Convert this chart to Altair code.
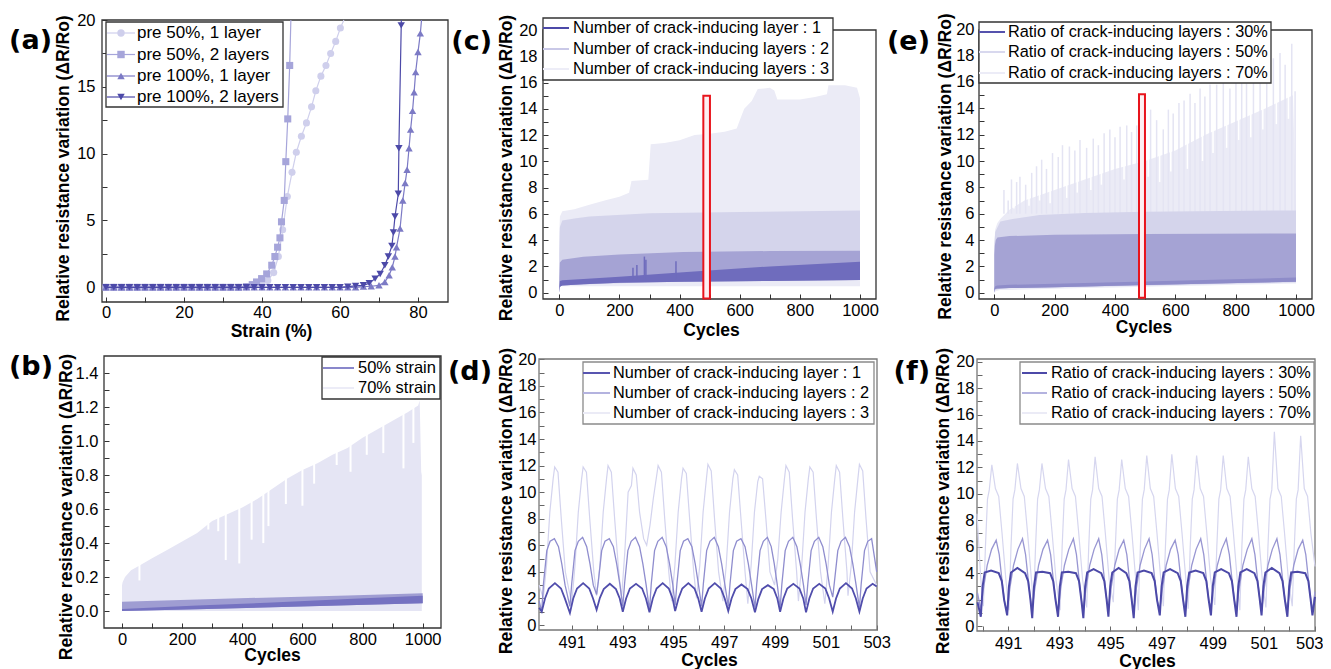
import altair as alt
import pandas as pd

FONT = "Liberation Sans"
PANEL_FONT = "DejaVu Sans"

# ================= (a) strain sweeps =================
A1_x = [0, 2, 4, 6, 8, 10, 12, 14, 16, 18,
        20, 22, 24, 26, 28, 30, 32, 34, 36, 38,
        40, 41.5, 43.0, 44.2, 45.3, 46.5, 47.7, 48.8, 50.1, 51.4,
        52.7, 53.8, 55.1, 56.4, 57.6, 58.9, 60.1, 61.0]
A1_y = [0.0, 0.0, 0.0, 0.0, 0.0, 0.0, 0.0, 0.0, 0.0, 0.0,
        0.0, 0.0, 0.0, 0.0, 0.0, 0.0, 0.0, 0.0, 0.05, 0.1,
        0.2, 0.5, 1.1, 2.3, 4.3, 6.8, 8.6, 10.1, 11.3, 12.3,
        13.5, 14.7, 15.8, 16.6, 17.5, 18.4, 19.4, 20.0]
A2_x = [0, 2, 4, 6, 8, 10, 12, 14, 16, 18,
        20, 22, 24, 26, 28, 30, 32, 34, 36, 37.5,
        38.6, 39.9, 41.2, 42.5, 43.3, 44.0, 44.6, 45.0, 45.7, 46.1,
        46.6, 47.1, 47.4]
A2_y = [0.0, 0.0, 0.0, 0.0, 0.0, 0.0, 0.0, 0.0, 0.0, 0.0,
        0.0, 0.0, 0.0, 0.0, 0.0, 0.0, 0.0, 0.0, 0.05, 0.2,
        0.4, 0.65, 1.0, 1.65, 2.3, 3.0, 3.7, 4.9, 6.5, 9.4,
        12.6, 16.6, 20.0]
A3_x = [0, 2, 4, 6, 8, 10, 12, 14, 16, 18,
        20, 22, 24, 26, 28, 30, 32, 34, 36, 38,
        40, 42, 44, 46, 48, 50, 52, 54, 56, 58,
        60, 62, 64, 66, 68, 70.0, 71.5, 72.6, 73.4, 74.1,
        74.5, 75.4, 76.1, 76.7, 77.2, 77.7, 78.1, 78.6, 79.0, 79.4,
        80.0, 80.6, 80.9]
A3_y = [0.0, 0.0, 0.0, 0.0, 0.0, 0.0, 0.0, 0.0, 0.0, 0.0,
        0.0, 0.0, 0.0, 0.0, 0.0, 0.0, 0.0, 0.0, 0.0, 0.0,
        0.0, 0.0, 0.0, 0.0, 0.0, 0.0, 0.0, 0.0, 0.0, 0.0,
        0.0, 0.0, 0.0, 0.05, 0.08, 0.15, 0.4, 0.9, 1.5, 2.3,
        3.0, 4.4, 6.5, 7.8, 8.8, 10.4, 11.8, 13.2, 14.6, 16.1,
        17.6, 19.0, 20.0]
A4_x = [0, 2, 4, 6, 8, 10, 12, 14, 16, 18,
        20, 22, 24, 26, 28, 30, 32, 34, 36, 38,
        40, 42, 44, 46, 48, 50, 52, 54, 56, 58,
        60, 62, 64, 66, 67.5, 69.0, 70.3, 71.5, 72.4, 73.3,
        73.7, 74.1, 74.95, 75.1, 75.7, 75.73]
A4_y = [0.0, 0.0, 0.0, 0.0, 0.0, 0.0, 0.0, 0.0, 0.0, 0.0,
        0.0, 0.0, 0.0, 0.0, 0.0, 0.0, 0.0, 0.0, 0.0, 0.0,
        0.0, 0.0, 0.0, 0.0, 0.0, 0.0, 0.0, 0.0, 0.0, 0.0,
        0.0, 0.05, 0.1, 0.15, 0.3, 0.65, 1.0, 1.65, 2.3, 3.1,
        4.1, 5.3, 7.0, 10.4, 19.6, 20.0]
A_names = ["pre 50%, 1 layer", "pre 50%, 2 layers", "pre 100%, 1 layer", "pre 100%, 2 layers"]

# ================= (b) 1000 cycles, strain =================
B70_x = [0, 2, 10, 30, 60, 100, 150, 200, 250, 300, 350, 400, 450, 500,
         550, 600, 650, 700, 750, 800, 850, 900, 950, 985, 990, 995, 997]
B70_hi = [0.15, 0.17, 0.20, 0.24, 0.27, 0.31, 0.36, 0.41, 0.46, 0.53, 0.57, 0.61, 0.66, 0.72,
          0.78, 0.83, 0.87, 0.92, 0.96, 1.02, 1.07, 1.12, 1.17, 1.21, 1.24, 0.82, 0.80]
B_gap_x = [58, 287, 320, 345, 390, 431, 470, 487, 545, 600, 639, 714, 760, 814, 869, 936, 969]
B_gap_lo = [0.18, 0.48, 0.47, 0.30, 0.28, 0.42, 0.40, 0.50, 0.63, 0.62, 0.75, 0.86, 0.82, 0.92, 0.93, 0.84, 0.99]
B50_x = [0, 250, 500, 750, 1000]
B50_hi = [0.055, 0.068, 0.080, 0.092, 0.104]
B50_lo = [0.0, 0.011, 0.022, 0.034, 0.045]
B50_core = [0.012, 0.032, 0.050, 0.070, 0.090]
B_names = ["50% strain", "70% strain"]

# ================= (c) 1000 cycles, number of layers =================
C3_x = [0, 2, 10, 50, 100, 157, 200, 232, 240, 296, 304, 350, 400, 450, 500, 550,
        590, 603, 615, 640, 660, 700, 715, 725, 800, 850, 890, 895, 950, 990, 1000]
C3_hi = [4.5, 5.8, 6.2, 6.35, 6.7, 7.05, 7.3, 7.6, 8.5, 8.6, 11.3, 11.4, 11.6, 12.0, 12.1, 12.25,
         12.5, 13.3, 14.0, 14.6, 15.5, 15.6, 15.4, 14.7, 14.7, 14.9, 15.1, 15.8, 15.8, 15.6, 14.8]
C2_x = [0, 2, 10, 50, 100, 300, 600, 1000]
C2_hi = [3.0, 5.0, 5.5, 5.65, 5.8, 6.05, 6.15, 6.25]
C2_lo = [0.0, 0.45, 0.55, 0.6, 0.65, 0.8, 0.88, 0.97]
C1_x = [0, 2, 10, 80, 200, 412, 700, 1000]
C1_hi = [1.0, 2.3, 2.5, 2.74, 2.9, 3.1, 3.17, 3.2]
C1_lo = [0.0, 0.45, 0.55, 0.65, 0.75, 0.84, 0.9, 0.97]
C1_core = [0.4, 0.9, 0.95, 1.05, 1.22, 1.55, 2.0, 2.36]
C_spk_x = [245, 258, 283, 288, 388]
C_spk_hi = [1.9, 2.1, 2.75, 2.5, 2.4]
C_box = {"x0": [479], "x1": [501], "y0": [-0.45], "y1": [15.0]}
C_names = ["Number of crack-inducing layer : 1", "Number of crack-inducing layers : 2",
           "Number of crack-inducing layers : 3"]

# ================= (e) 1000 cycles, ratio of layers =================
E70_x = [0, 3, 10, 20, 50, 100, 200, 300, 400, 500, 600, 700, 800, 900, 990, 1000]
E70_hi = [3.7, 4.8, 5.3, 5.6, 6.3, 7.0, 7.8, 8.6, 9.4, 10.0, 10.8, 12.0, 13.0, 14.0, 15.0, 6.3]
E70_lo = [0.0, 0.1, 0.15, 0.2, 0.2, 0.25, 0.3, 0.35, 0.4, 0.45, 0.5, 0.55, 0.6, 0.65, 0.7, 0.7]
E_gap_x = [65, 115, 150, 185, 240, 275, 320, 355, 430, 480, 510, 548, 585, 640, 690, 725,
           770, 810, 850, 890, 935, 975]
E_gap_lo = [6.4, 6.6, 7.0, 6.8, 7.2, 7.6, 7.8, 8.2, 8.6, 8.0, 8.8, 8.4, 9.2, 9.4, 10.0, 10.6,
            11.0, 11.6, 11.8, 12.4, 12.8, 13.2]
E_spk_x = [32, 46, 57, 74, 85, 104, 124, 140, 157, 173, 193, 212, 226, 249, 267, 284, 306, 328,
           345, 364, 383, 400, 417, 439, 455, 472, 518, 538, 560, 577, 593, 612, 629, 649, 665,
           682, 698, 715, 737, 759, 781, 801, 820, 836, 859, 881, 903, 925, 947, 964, 986, 997]
E_spk_hi = [7.8, 7.0, 8.6, 8.4, 8.8, 8.2, 9.1, 9.6, 10.1, 9.4, 10.6, 10.3, 11.2, 11.1, 10.8, 11.6,
            11.0, 11.7, 11.2, 12.1, 12.4, 11.8, 12.6, 12.7, 12.2, 12.7, 13.9, 13.1, 12.4, 13.9,
            13.6, 14.4, 14.6, 15.1, 14.4, 15.5, 14.9, 15.8, 15.8, 16.2, 15.5, 16.2, 16.4, 15.9,
            16.8, 17.2, 16.4, 17.8, 18.2, 17.3, 18.9, 15.3]
E50_x = [0, 3, 20, 60, 150, 300, 500, 1000]
E50_hi = [3.6, 4.6, 5.4, 5.6, 5.9, 6.05, 6.15, 6.25]
E50_lo = [0.0, 0.2, 0.3, 0.35, 0.4, 0.45, 0.55, 0.8]
E30_x = [0, 2, 5, 10, 50, 200, 500, 1000]
E30_hi = [2.9, 3.6, 4.0, 4.2, 4.3, 4.4, 4.45, 4.5]
E30_lo = [0.0, 0.25, 0.3, 0.32, 0.35, 0.42, 0.58, 0.84]
E30_core = [0.3, 0.45, 0.5, 0.55, 0.6, 0.68, 0.85, 1.15]
E_box = {"x0": [479.6], "x1": [499.4], "y0": [-0.38], "y1": [15.06]}
E_names = ["Ratio of crack-inducing layers : 30%", "Ratio of crack-inducing layers : 50%",
           "Ratio of crack-inducing layers : 70%"]

# ================= (d) zoom, number of layers =================
D1_x = [489.72,
        489.82, 489.95, 490.10, 490.34, 490.58, 490.73,
        490.93, 491.06, 491.21, 491.45, 491.69, 491.84,
        491.98, 492.11, 492.26, 492.50, 492.74, 492.89,
        493.01, 493.14, 493.29, 493.53, 493.77, 493.92,
        494.06, 494.19, 494.34, 494.58, 494.82, 494.97,
        495.07, 495.20, 495.35, 495.59, 495.83, 495.98,
        496.11, 496.24, 496.39, 496.63, 496.87, 497.02,
        497.16, 497.29, 497.44, 497.68, 497.92, 498.07,
        498.21, 498.34, 498.49, 498.72, 498.95, 499.09,
        499.20, 499.33, 499.48, 499.72, 499.96, 500.11,
        500.22, 500.35, 500.50, 500.74, 500.98, 501.13,
        501.27, 501.40, 501.55, 501.79, 502.03, 502.18,
        502.32, 502.45, 502.60, 502.84, 503.0]
D1_y = [1.3,
        1.0, 2.0, 2.75, 3.15, 2.75, 2.0,
        0.9, 2.0, 2.75, 3.15, 2.75, 2.0,
        1.15, 2.05, 2.7, 3.1, 2.7, 2.0,
        1.0, 2.0, 2.75, 3.1, 2.75, 2.0,
        0.95, 2.0, 2.75, 3.15, 2.75, 2.0,
        1.05, 2.0, 2.75, 3.15, 2.75, 2.0,
        1.0, 2.0, 2.75, 3.15, 2.75, 2.0,
        1.05, 2.0, 2.7, 3.05, 2.7, 2.0,
        0.95, 1.95, 2.7, 3.0, 2.7, 2.0,
        1.0, 2.0, 2.75, 3.1, 2.75, 2.0,
        0.95, 2.0, 2.75, 3.1, 2.75, 2.0,
        1.0, 2.0, 2.75, 3.15, 2.75, 2.0,
        1.0, 2.0, 2.75, 3.1, 2.9]
D2_x = [489.72,
        489.82, 489.89, 490.02, 490.15, 490.32, 490.48, 490.61, 490.74,
        490.93, 491.00, 491.13, 491.26, 491.43, 491.59, 491.72, 491.85,
        491.98, 492.05, 492.18, 492.31, 492.48, 492.64, 492.77, 492.90,
        493.01, 493.08, 493.21, 493.34, 493.51, 493.67, 493.80, 493.93,
        494.06, 494.13, 494.26, 494.39, 494.56, 494.72, 494.85, 494.98,
        495.07, 495.14, 495.27, 495.40, 495.57, 495.73, 495.86, 495.99,
        496.11, 496.18, 496.31, 496.44, 496.61, 496.77, 496.90, 497.03,
        497.16, 497.23, 497.36, 497.49, 497.66, 497.82, 497.95, 498.08,
        498.21, 498.28, 498.41, 498.54, 498.70, 498.85, 498.97, 499.09,
        499.20, 499.27, 499.40, 499.53, 499.70, 499.86, 499.99, 500.12,
        500.22, 500.29, 500.42, 500.55, 500.72, 500.88, 501.01, 501.14,
        501.27, 501.34, 501.47, 501.60, 501.77, 501.93, 502.06, 502.19,
        502.32, 502.39, 502.52, 502.65, 502.80, 503.0]
D2_y = [1.8,
        1.0, 3.1, 5.6, 6.3, 6.5, 5.9, 4.6, 3.0,
        1.4, 3.1, 5.6, 6.3, 6.6, 5.9, 4.6, 3.0,
        2.3, 3.3, 5.6, 6.3, 6.5, 5.9, 4.6, 3.0,
        1.4, 3.1, 5.6, 6.3, 6.6, 5.9, 4.6, 3.0,
        1.1, 3.1, 5.6, 6.3, 6.6, 5.9, 4.6, 3.0,
        1.5, 3.1, 5.6, 6.3, 6.5, 5.9, 4.6, 3.0,
        1.4, 3.1, 5.6, 6.3, 6.6, 5.9, 4.6, 3.0,
        1.4, 3.1, 5.6, 6.3, 6.5, 5.9, 4.6, 3.0,
        1.3, 3.1, 5.6, 6.3, 6.6, 5.9, 4.6, 3.0,
        1.3, 3.1, 5.6, 6.3, 6.6, 5.9, 4.6, 3.0,
        1.5, 3.1, 5.6, 6.3, 6.6, 5.9, 4.6, 3.0,
        2.1, 3.3, 5.6, 6.3, 6.6, 5.9, 4.6, 3.0,
        1.3, 3.1, 5.6, 6.3, 6.5, 4.0]
D3_x = [489.72,
        489.88, 490.01, 490.14, 490.27, 490.33, 490.46, 490.59, 490.75,
        491.00, 491.13, 491.26, 491.39, 491.45, 491.58, 491.71, 491.87,
        491.98, 492.11, 492.24, 492.37, 492.43, 492.56, 492.69, 492.85,
        492.96, 493.09, 493.22, 493.35, 493.41, 493.54, 493.67, 493.83,
        493.95, 494.08, 494.21, 494.34, 494.40, 494.53, 494.66, 494.82,
        494.93, 495.06, 495.19, 495.32, 495.38, 495.51, 495.64, 495.80,
        495.91, 496.04, 496.17, 496.30, 496.36, 496.49, 496.62, 496.78,
        496.95, 497.08, 497.21, 497.34, 497.40, 497.53, 497.66, 497.82,
        497.93, 498.06, 498.19, 498.32, 498.38, 498.51, 498.64, 498.80,
        498.98, 499.11, 499.24, 499.37, 499.43, 499.56, 499.69, 499.85,
        499.92, 500.05, 500.18, 500.31, 500.37, 500.50, 500.63, 500.79,
        500.96, 501.09, 501.22, 501.35, 501.41, 501.54, 501.67, 501.83,
        501.87, 502.00, 502.13, 502.26, 502.32, 502.45, 502.58, 502.74,
        503.0]
D3_y = [3.0,
        2.0, 4.5, 8.5, 11.0, 11.9, 11.5, 8.0, 4.0,
        1.6, 4.5, 8.5, 11.0, 11.9, 11.5, 8.0, 4.0,
        2.2, 4.5, 8.5, 11.0, 12.0, 11.5, 8.0, 4.0,
        2.0, 5.5, 10.0, 10.5, 11.8, 11.3, 8.5, 6.5,
        6.0, 7.5, 9.5, 11.2, 12.0, 11.5, 8.0, 4.0,
        1.8, 4.5, 8.5, 11.0, 11.8, 11.4, 8.0, 4.0,
        2.0, 4.5, 8.5, 11.0, 12.1, 11.6, 8.0, 4.0,
        1.8, 4.5, 8.5, 11.0, 11.7, 11.3, 8.0, 4.0,
        1.6, 4.5, 8.5, 10.8, 11.2, 11.0, 8.0, 4.0,
        3.0, 5.0, 8.5, 11.0, 12.0, 11.5, 8.0, 4.0,
        1.8, 4.5, 8.5, 11.0, 11.9, 11.5, 8.0, 4.0,
        1.6, 4.5, 8.5, 11.0, 12.0, 11.5, 8.0, 4.0,
        2.2, 4.5, 8.5, 11.0, 12.1, 11.6, 8.0, 4.0,
        3.0]

# ================= (f) zoom, ratio of layers =================
F1_x = [489.80,
        489.93, 490.00, 490.08, 490.33, 490.63, 490.75, 490.84,
        490.96, 491.03, 491.11, 491.36, 491.66, 491.78, 491.87,
        491.94, 492.01, 492.09, 492.34, 492.64, 492.76, 492.85,
        492.95, 493.02, 493.10, 493.35, 493.65, 493.77, 493.86,
        493.94, 494.01, 494.09, 494.34, 494.64, 494.76, 494.85,
        494.92, 494.99, 495.07, 495.32, 495.62, 495.74, 495.83,
        495.91, 495.98, 496.06, 496.31, 496.61, 496.73, 496.82,
        496.93, 497.00, 497.08, 497.33, 497.63, 497.75, 497.84,
        497.93, 498.00, 498.08, 498.33, 498.63, 498.75, 498.84,
        498.93, 499.00, 499.08, 499.33, 499.63, 499.75, 499.84,
        499.93, 500.00, 500.08, 500.33, 500.63, 500.75, 500.84,
        500.91, 500.98, 501.06, 501.31, 501.61, 501.73, 501.82,
        501.92, 501.99, 502.07, 502.32, 502.62, 502.74, 502.83,
        502.90, 503.0]
F1_y = [1.8,
        0.7, 3.0, 4.05, 4.2, 4.0, 3.4, 2.0,
        0.8, 3.0, 4.05, 4.4, 4.0, 3.4, 2.0,
        0.6, 3.0, 4.05, 4.1, 4.0, 3.4, 2.0,
        0.7, 3.0, 4.05, 4.1, 4.0, 3.4, 2.0,
        0.6, 3.0, 4.05, 4.3, 4.0, 3.4, 2.0,
        0.7, 3.0, 4.05, 4.4, 4.0, 3.4, 2.0,
        0.6, 3.0, 4.05, 4.2, 4.0, 3.4, 2.0,
        0.8, 3.0, 4.05, 4.3, 4.0, 3.4, 2.0,
        0.7, 3.0, 4.05, 4.2, 4.0, 3.4, 2.0,
        0.8, 3.0, 4.05, 4.3, 4.0, 3.4, 2.0,
        0.7, 3.0, 4.05, 4.3, 4.0, 3.4, 2.0,
        0.8, 3.0, 4.05, 4.4, 4.0, 3.4, 2.0,
        0.7, 3.0, 4.05, 4.1, 4.0, 3.4, 2.0,
        0.8, 2.2]
F2_x = [489.80,
        489.93, 490.03, 490.18, 490.35, 490.53, 490.65, 490.76, 490.85,
        490.96, 491.06, 491.21, 491.38, 491.56, 491.68, 491.79, 491.88,
        491.94, 492.04, 492.19, 492.36, 492.54, 492.66, 492.77, 492.86,
        492.95, 493.05, 493.20, 493.37, 493.55, 493.67, 493.78, 493.87,
        493.94, 494.04, 494.19, 494.36, 494.54, 494.66, 494.77, 494.86,
        494.92, 495.02, 495.17, 495.34, 495.52, 495.64, 495.75, 495.84,
        495.91, 496.01, 496.16, 496.33, 496.51, 496.63, 496.74, 496.83,
        496.93, 497.03, 497.18, 497.35, 497.53, 497.65, 497.76, 497.85,
        497.93, 498.03, 498.18, 498.35, 498.53, 498.65, 498.76, 498.85,
        498.93, 499.03, 499.18, 499.35, 499.53, 499.65, 499.76, 499.85,
        499.93, 500.03, 500.18, 500.35, 500.53, 500.65, 500.76, 500.85,
        500.91, 501.01, 501.16, 501.33, 501.51, 501.63, 501.74, 501.83,
        501.92, 502.02, 502.17, 502.34, 502.52, 502.64, 502.75, 502.84,
        502.90, 503.0]
F2_y = [2.5,
        1.2, 2.8, 4.6, 5.8, 6.5, 5.4, 3.4, 1.9,
        1.0, 2.8, 4.6, 5.8, 6.6, 5.4, 3.4, 1.9,
        1.3, 2.8, 4.6, 5.8, 6.5, 5.4, 3.4, 1.9,
        1.0, 2.8, 4.6, 5.8, 6.6, 5.4, 3.4, 1.9,
        1.2, 2.8, 4.6, 5.8, 6.6, 5.4, 3.4, 1.9,
        1.4, 2.8, 4.6, 5.8, 6.5, 5.4, 3.4, 1.9,
        1.0, 2.8, 4.6, 5.8, 6.6, 5.4, 3.4, 1.9,
        1.3, 2.8, 4.6, 5.8, 6.5, 5.4, 3.4, 1.9,
        1.1, 2.8, 4.6, 5.8, 6.6, 5.4, 3.4, 1.9,
        1.4, 2.8, 4.6, 5.8, 6.6, 5.4, 3.4, 1.9,
        1.2, 2.8, 4.6, 5.8, 6.6, 5.4, 3.4, 1.9,
        1.1, 2.8, 4.6, 5.8, 6.6, 5.4, 3.4, 1.9,
        1.3, 2.8, 4.6, 5.8, 6.5, 5.4, 3.4, 1.9,
        1.2, 2.6]
F3_x = [489.78, 489.93,
        490.03, 490.11, 490.19, 490.26, 490.36, 490.50, 490.63, 490.76, 490.91,
        491.03, 491.11, 491.19, 491.26, 491.36, 491.50, 491.63, 491.76, 491.91,
        491.99, 492.07, 492.15, 492.22, 492.32, 492.46, 492.59, 492.72, 492.87,
        493.03, 493.11, 493.19, 493.26, 493.36, 493.50, 493.63, 493.76, 493.91,
        494.07, 494.15, 494.23, 494.30, 494.40, 494.54, 494.67, 494.80, 494.95,
        495.11, 495.19, 495.27, 495.34, 495.44, 495.58, 495.71, 495.84, 495.99,
        496.09, 496.17, 496.25, 496.32, 496.42, 496.56, 496.69, 496.82, 496.97,
        497.07, 497.15, 497.23, 497.30, 497.40, 497.54, 497.67, 497.80, 497.95,
        498.04, 498.12, 498.20, 498.27, 498.37, 498.51, 498.64, 498.77, 498.92,
        499.08, 499.16, 499.24, 499.31, 499.41, 499.55, 499.68, 499.81, 499.96,
        500.06, 500.14, 500.22, 500.29, 500.39, 500.53, 500.66, 500.79, 500.94,
        501.08, 501.16, 501.24, 501.31, 501.41, 501.55, 501.68, 501.81, 501.96,
        502.11, 502.19, 502.27, 502.34, 502.44, 502.58, 502.71, 502.84,
        503.0]
F3_y = [8.5, 3.5,
        1.5, 6.0, 9.6, 10.3, 12.2, 10.4, 9.8, 7.0, 3.5,
        1.2, 6.0, 9.6, 10.3, 12.3, 10.4, 9.8, 7.0, 3.5,
        1.6, 6.0, 9.6, 10.3, 12.3, 10.4, 9.8, 7.0, 3.5,
        1.2, 6.0, 9.6, 10.3, 12.6, 10.4, 9.8, 7.0, 3.5,
        1.4, 6.0, 9.6, 10.3, 12.8, 10.4, 9.8, 7.0, 3.5,
        1.8, 6.0, 9.6, 10.3, 12.6, 10.4, 9.8, 7.0, 3.5,
        1.2, 6.0, 9.6, 10.3, 12.9, 10.4, 9.8, 7.0, 3.5,
        1.5, 6.0, 9.6, 10.3, 13.0, 10.4, 9.8, 7.0, 3.5,
        1.3, 6.0, 9.6, 10.3, 12.9, 10.4, 9.8, 7.0, 3.5,
        1.6, 6.0, 9.6, 10.3, 12.9, 10.4, 9.8, 7.0, 3.5,
        1.2, 6.0, 9.6, 10.3, 12.8, 10.4, 9.8, 7.0, 3.5,
        1.4, 6.0, 9.6, 10.3, 14.7, 10.4, 9.8, 7.0, 3.5,
        1.5, 6.0, 9.6, 10.3, 14.4, 10.4, 9.8, 7.0,
        4.5]

# ================= axis tick values =================
A_xt = [0, 10, 20, 30, 40, 50, 60, 70, 80]
A_yt = [0, 2.5, 5, 7.5, 10, 12.5, 15, 17.5, 20]
CYC_t = [0, 100, 200, 300, 400, 500, 600, 700, 800, 900, 1000]
B_yt = [0.0, 0.1, 0.2, 0.3, 0.4, 0.5, 0.6, 0.7, 0.8, 0.9, 1.0, 1.1, 1.2, 1.3, 1.4]
R20_t = [0, 1, 2, 3, 4, 5, 6, 7, 8, 9, 10, 11, 12, 13, 14, 15, 16, 17, 18, 19, 20]
Z_xt = [490, 491, 492, 493, 494, 495, 496, 497, 498, 499, 500, 501, 502, 503]

YTITLE = "Relative resistance variation (\u0394R/Ro)"
ONE = pd.DataFrame({"k": [0]})
W, H = 1315, 661   # whole canvas, page coords minus the 8px margin

# colours
C_DARK = "#4c49a8"
C_MED = "#7c7ac5"
C_L2 = "#a6a5da"
C_L1 = "#cfcfec"
BAND3 = "#ebebf6"
BAND2 = "#d4d4eb"
BAND1 = "#a5a3d4"
CORE = "#6f6cbd"

AXC = dict(domain=False, grid=False, tickSize=5, tickWidth=1,
           labelFont=FONT, labelFontSize=16.5, labelColor="black", labelOverlap=False,
           labelBound=False, titleFont=FONT, titleFontSize=17.5,
           titleFontWeight="bold", titleColor="black", titleBaseline="alphabetic",
           titleAlign="center")


def mk(xdom, xrng, ydom, yrng, xaxis, yaxis):
    def X(f):
        return alt.X(f, type="quantitative",
                     scale=alt.Scale(domain=xdom, range=xrng, nice=False, zero=False), axis=xaxis)

    def Y(f):
        return alt.Y(f, type="quantitative",
                     scale=alt.Scale(domain=ydom, range=yrng, nice=False, zero=False), axis=yaxis)
    return X, Y


def xax(vals, expr, title, tx, ty, bottom, pad=3, tick="#333", flush=False):
    # inward ticks: axis line 5px above the frame bottom
    extra = dict(labelFlush=True, labelFlushOffset=8) if flush else dict(labelFlush=False)
    return alt.Axis(orient="bottom", offset=(bottom - 8 - 5) - H, values=vals, labelExpr=expr,
                    title=title, titleX=tx, titleY=ty, labelPadding=pad, tickColor=tick,
                    **extra, **AXC)


def yax(vals, expr, tx, ty, left, pad=6, tick="#333"):
    return alt.Axis(orient="left", offset=-(left - 8 + 5), values=vals, labelExpr=expr,
                    title=YTITLE, titleX=tx, titleY=ty, labelPadding=pad, tickColor=tick,
                    labelFlush=False, **AXC)


def frame(l, r, t, b, stroke="#333"):
    return alt.Chart(ONE).mark_rect(fill="transparent", stroke=stroke, strokeWidth=1.3).encode(
        x=alt.value(l - 8), x2=alt.value(r - 8), y=alt.value(t - 8), y2=alt.value(b - 8))


def box(x0, x1, y0, y1, stroke="#333"):
    return alt.Chart(ONE).mark_rect(fill="white", stroke=stroke, strokeWidth=1.3).encode(
        x=alt.value(x0 - 8), x2=alt.value(x1 - 8), y=alt.value(y0 - 8), y2=alt.value(y1 - 8))


def lline(x0, x1, y, color, w=2):
    return alt.Chart(ONE).mark_rule(color=color, strokeWidth=w).encode(
        x=alt.value(x0 - 8), x2=alt.value(x1 - 8), y=alt.value(y - 8))


def ltext(x, y, txt, size=16.3):
    return alt.Chart(ONE).mark_text(align="left", baseline="middle", font=FONT, fontSize=size,
                                    color="black").encode(
        x=alt.value(x - 8), y=alt.value(y - 8), text=alt.value(txt))


def lmark(x, y, shape, color, size=55):
    return alt.Chart(ONE).mark_point(shape=shape, filled=True, size=size, color=color, opacity=1).encode(
        x=alt.value(x - 8), y=alt.value(y - 8))


def plabel(txt, x, y):
    return alt.Chart(ONE).mark_text(align="right", baseline="middle", font=PANEL_FONT, fontSize=27,
                                    fontWeight="bold", color="black").encode(
        x=alt.value(x - 8), y=alt.value(y - 8), text=alt.value(txt))


EXPR_20 = "datum.value % 20 == 0 ? format(datum.value, 'd') : ''"
EXPR_5 = "datum.value % 5 == 0 ? format(datum.value, 'd') : ''"
EXPR_200 = "datum.value % 200 == 0 ? format(datum.value, 'd') : ''"
EXPR_EVEN = "datum.value % 2 == 0 ? format(datum.value, 'd') : ''"
EXPR_ODD = "datum.value % 2 == 1 ? format(datum.value, 'd') : ''"
EXPR_B = "round(datum.value * 10) % 2 == 0 ? format(datum.value, '.1f') : ''"

# ---------------- panel a  (page px: 102..448 x 20..302) ----------------
X, Y = mk([0, 80], [106 - 8, 418 - 8], [0, 20], [287.3 - 8, 20 - 8],
          xax(A_xt, EXPR_20, "Strain (%)", 263, 39, 302, pad=2),
          yax(A_yt, EXPR_5, -38.2, 160, 102, pad=7))
a_layers = [frame(102, 448, 20, 302)]
for xs, ys, col, shp, sz in [(A1_x, A1_y, C_L1, "circle", 50), (A2_x, A2_y, C_L2, "square", 50),
                             (A3_x, A3_y, C_MED, "triangle-up", 55), (A4_x, A4_y, C_DARK, "triangle-down", 55)]:
    d = pd.DataFrame({"x": xs, "y": ys})
    a_layers.append(alt.Chart(d).mark_line(color=col, strokeWidth=1.2).encode(x=X("x"), y=Y("y")))
    a_layers.append(alt.Chart(d).transform_filter("datum.y <= 19.6").mark_point(
        shape=shp, filled=True, size=sz, color=col, opacity=1).encode(x=X("x"), y=Y("y")))
a_layers.append(box(106, 283, 22, 107))
for i, (col, shp) in enumerate([(C_L1, "circle"), (C_L2, "square"), (C_MED, "triangle-up"),
                                (C_DARK, "triangle-down")]):
    yy = [33, 54.5, 76, 97][i]
    a_layers += [lline(107, 135, yy, col, 1.2), lmark(121, yy, shp, col), ltext(137, yy, A_names[i], 17)]
a_layers.append(plabel("(a)", 52, 41))
panel_a = alt.layer(*a_layers)

# ---------------- panel b  (page px: 104..441 x 356..628) ----------------
X, Y = mk([0, 1000], [122 - 8, 422.7 - 8], [0, 1.4], [611 - 8, 373.3 - 8],
          xax(CYC_t, EXPR_200, "Cycles", 264, 37, 628),
          yax(B_yt, EXPR_B, -37.7, 498.5, 104, pad=6))
b70 = pd.DataFrame({"x": B70_x, "hi": B70_hi})
bgap = pd.DataFrame({"x": B_gap_x, "lo": B_gap_lo})
b50 = pd.DataFrame({"x": B50_x, "hi": B50_hi, "lo": B50_lo, "core": B50_core})
b_layers = [
    frame(104, 441, 356, 628),
    alt.Chart(b70).mark_area(color="#e5e5f4", opacity=1).encode(x=X("x"), y=Y("hi"), y2=alt.datum(0.0)),
    alt.Chart(bgap).mark_rule(color="white", strokeWidth=2).encode(x=X("x"), y=Y("lo"), y2=alt.datum(1.4)),
    alt.Chart(b50).mark_area(color="#9f9dd2", opacity=1).encode(x=X("x"), y=Y("hi"), y2=alt.Y2("lo")),
    alt.Chart(b50).mark_area(color="#7572c1", opacity=1).encode(x=X("x"), y=Y("core"), y2=alt.Y2("lo")),
    box(322, 440, 357, 399),
    lline(323, 354, 368, "#8987cb"), ltext(358, 368, B_names[0], 16.5),
    lline(323, 354, 388, "#ececf7"), ltext(358, 388, B_names[1], 16.5),
    plabel("(b)", 53, 367),
]
panel_b = alt.layer(*b_layers)

# ---------------- panel c  (page px: 543..876 x 30..299) ----------------
X, Y = mk([0, 1000], [559.3 - 8, 860 - 8], [0, 20], [292.7 - 8, 30 - 8],
          xax(CYC_t, EXPR_200, "Cycles", 703, 41, 299),
          yax(R20_t, EXPR_EVEN, -36.4, 159.5, 543, pad=6))
c3 = pd.DataFrame({"x": C3_x, "hi": C3_hi})
c2 = pd.DataFrame({"x": C2_x, "hi": C2_hi, "lo": C2_lo})
c1 = pd.DataFrame({"x": C1_x, "hi": C1_hi, "lo": C1_lo, "core": C1_core})
cspk = pd.DataFrame({"x": C_spk_x, "hi": C_spk_hi})
cbox = pd.DataFrame(C_box)
c_layers = [
    frame(543, 876, 30, 299),
    alt.Chart(c3).mark_area(color=BAND3, opacity=1).encode(x=X("x"), y=Y("hi"), y2=alt.datum(0.5)),
    alt.Chart(c2).mark_area(color=BAND2, opacity=1).encode(x=X("x"), y=Y("hi"), y2=alt.Y2("lo")),
    alt.Chart(c1).mark_area(color=BAND1, opacity=1).encode(x=X("x"), y=Y("hi"), y2=alt.Y2("lo")),
    alt.Chart(c1).mark_area(color=CORE, opacity=1).encode(x=X("x"), y=Y("core"), y2=alt.Y2("lo")),
    alt.Chart(cspk).mark_rule(color=CORE, strokeWidth=1.5).encode(x=X("x"), y=Y("hi"), y2=alt.datum(1.0)),
    alt.Chart(cbox).mark_rect(fill="#fdf0f2", stroke="#e8141c", strokeWidth=2).encode(
        x=X("x0"), x2=alt.X2("x1"), y=Y("y0"), y2=alt.Y2("y1")),
    box(543, 833, 18, 80),
    lline(543, 569, 28, C_DARK), ltext(573, 28, C_names[0]),
    lline(543, 569, 49, "#c9c8e7"), ltext(573, 49, C_names[1]),
    lline(543, 569, 69, "#ededf7"), ltext(573, 69, C_names[2]),
    plabel("(c)", 492, 42),
]
panel_c = alt.layer(*c_layers)

# ---------------- panel e  (page px: 979..1312 x 30..299) ----------------
X, Y = mk([0, 1000], [994.3 - 8, 1296 - 8], [0, 20], [292.7 - 8, 29.3 - 8],
          xax(CYC_t, EXPR_200, "Cycles", 1135.5, 38, 299),
          yax(R20_t, EXPR_EVEN, -33.7, 158, 979, pad=5))
e70 = pd.DataFrame({"x": E70_x, "hi": E70_hi, "lo": E70_lo})
egap = pd.DataFrame({"x": E_gap_x, "lo": E_gap_lo})
espk = pd.DataFrame({"x": E_spk_x, "hi": E_spk_hi})
e50 = pd.DataFrame({"x": E50_x, "hi": E50_hi, "lo": E50_lo})
e30 = pd.DataFrame({"x": E30_x, "hi": E30_hi, "lo": E30_lo, "core": E30_core})
ebox = pd.DataFrame(E_box)
e_layers = [
    frame(979, 1312, 30, 299),
    alt.Chart(e70).mark_area(color=BAND3, opacity=1).encode(x=X("x"), y=Y("hi"), y2=alt.Y2("lo")),
    alt.Chart(egap).mark_rule(color="white", strokeWidth=1.5).encode(x=X("x"), y=Y("lo"), y2=alt.datum(17.0)),
    alt.Chart(espk).mark_rule(color="#e4e4f3", strokeWidth=1.5).encode(x=X("x"), y=Y("hi"), y2=alt.datum(6.0)),
    alt.Chart(e50).mark_area(color=BAND2, opacity=1).encode(x=X("x"), y=Y("hi"), y2=alt.Y2("lo")),
    alt.Chart(e30).mark_area(color=BAND1, opacity=1).encode(x=X("x"), y=Y("hi"), y2=alt.Y2("lo")),
    alt.Chart(e30).mark_area(color="#8e8cc9", opacity=1).encode(x=X("x"), y=Y("core"), y2=alt.Y2("lo")),
    alt.Chart(ebox).mark_rect(fill="#fdf0f2", stroke="#e8141c", strokeWidth=2).encode(
        x=X("x0"), x2=alt.X2("x1"), y=Y("y0"), y2=alt.Y2("y1")),
    box(979, 1271, 22, 83),
    lline(979, 1005, 32, "#5552ad"), ltext(1008, 32, E_names[0]),
    lline(979, 1005, 52, "#d8d8ee"), ltext(1008, 52, E_names[1]),
    lline(979, 1005, 73, "#ececf7"), ltext(1008, 73, E_names[2]),
    plabel("(e)", 930, 42),
]
panel_e = alt.layer(*e_layers)

# ---------------- panel d  (page px: 539..877 x 359..630) ----------------
X, Y = mk([491, 503], [571.7 - 8, 876.7 - 8], [0, 20], [625 - 8, 359.3 - 8],
          xax(Z_xt, EXPR_ODD, "Cycles", 701, 40, 630, pad=4, tick="#666"),
          yax(R20_t, EXPR_EVEN, -32.7, 492.5, 539, pad=3, tick="#666"))
d_layers = [
    frame(539, 877, 359, 630, "#777"),
    alt.Chart(pd.DataFrame({"x": D3_x, "y": D3_y})).mark_line(color="#d3d3ee", strokeWidth=1.2).encode(x=X("x"), y=Y("y")),
    alt.Chart(pd.DataFrame({"x": D2_x, "y": D2_y})).mark_line(color="#8f8dce", strokeWidth=1.3).encode(x=X("x"), y=Y("y")),
    alt.Chart(pd.DataFrame({"x": D1_x, "y": D1_y})).mark_line(color="#504dac", strokeWidth=1.8).encode(x=X("x"), y=Y("y")),
    box(583, 874, 362, 424, "#8a8a8a"),
    lline(583, 610, 373, "#5855b0"), ltext(613, 373, C_names[0]),
    lline(583, 610, 393, "#b4b3df"), ltext(613, 393, C_names[1]),
    lline(583, 610, 413, "#ebebf6"), ltext(613, 413, C_names[2]),
    plabel("(d)", 492, 372),
]
panel_d = alt.layer(*d_layers)

# ---------------- panel f  (page px: 977..1315 x 359..631) ----------------
X, Y = mk([489.78, 503], [977 - 8, 1315 - 8], [0, 20], [626 - 8, 361.7 - 8],
          xax(Z_xt, EXPR_ODD, "Cycles", 1139, 40, 631, pad=4, tick="#666", flush=True),
          yax(R20_t, EXPR_EVEN, -33.7, 492.5, 977, pad=3, tick="#666"))
f_layers = [
    frame(977, 1315, 359, 631, "#777"),
    alt.Chart(pd.DataFrame({"x": F3_x, "y": F3_y})).mark_line(color="#d6d6ef", strokeWidth=1.2).encode(x=X("x"), y=Y("y")),
    alt.Chart(pd.DataFrame({"x": F2_x, "y": F2_y})).mark_line(color="#9896d2", strokeWidth=1.3).encode(x=X("x"), y=Y("y")),
    alt.Chart(pd.DataFrame({"x": F1_x, "y": F1_y})).mark_line(color="#4c49a8", strokeWidth=2.0).encode(x=X("x"), y=Y("y")),
    box(1020, 1314, 362, 424, "#8a8a8a"),
    lline(1022, 1047, 373, "#4c49a8"), ltext(1051, 373, E_names[0]),
    lline(1022, 1047, 393, "#b4b3df"), ltext(1051, 393, E_names[1]),
    lline(1022, 1047, 413, "#ebebf6"), ltext(1051, 413, E_names[2]),
    plabel("(f)", 930, 372),
]
panel_f = alt.layer(*f_layers)

chart = alt.layer(panel_a, panel_b, panel_c, panel_d, panel_e, panel_f).resolve_scale(
    x="independent", y="independent"
).properties(
    width=W, height=H, autosize=alt.AutoSizeParams(type="none"), padding=0
).configure(font=FONT, background="white").configure_view(stroke="transparent")

chart.save("out.html", embed_options={"renderer": "svg", "actions": False})
